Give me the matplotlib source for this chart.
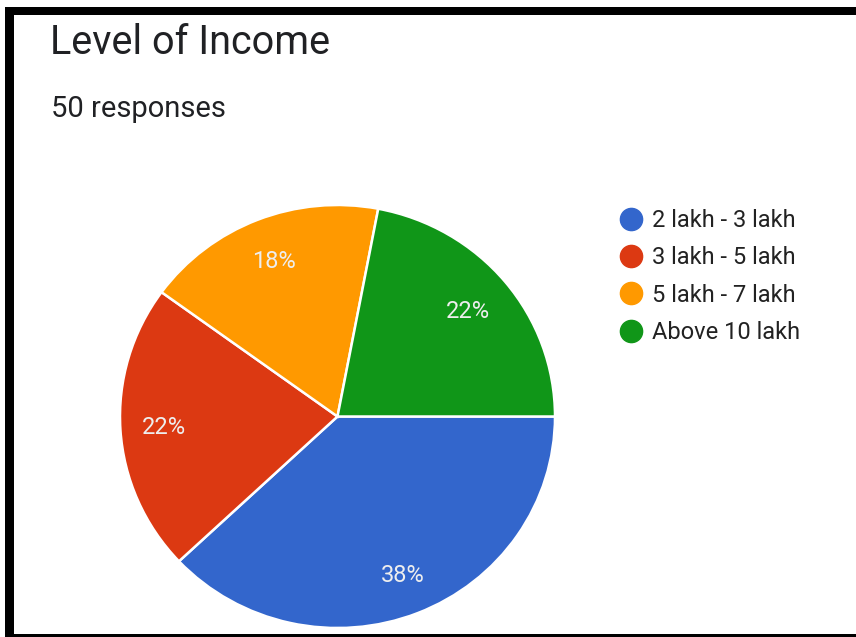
import numpy as np
import matplotlib
matplotlib.use("Agg")
import matplotlib.pyplot as plt
from matplotlib.patches import Rectangle
from matplotlib.lines import Line2D

plt.rcParams['font.family'] = ['Roboto', 'DejaVu Sans']

# survey data
categories = ["2 lakh - 3 lakh", "3 lakh - 5 lakh", "5 lakh - 7 lakh", "Above 10 lakh"]
shares = [38, 22, 18, 22]
colors = ["#3366cc", "#dc3912", "#ff9900", "#109618"]
label_dist = [0.81, 0.80, 0.79, 0.78]
title = "Level of Income"
subtitle = "50 responses"

W, H = 856, 637
fig = plt.figure(figsize=(W / 100, H / 100), dpi=100)
fig.patch.set_facecolor("white")

def px(x0, y0, x1, y1):
    # pixel box (top-left origin) -> figure fraction rect
    return [x0 / W, 1 - y1 / H, (x1 - x0) / W, (y1 - y0) / H]

ax = fig.add_axes(px(120, 205, 555, 628))
wedges, _ = ax.pie(shares, colors=colors, startangle=0, counterclock=False,
                   wedgeprops=dict(edgecolor="white", linewidth=1.8))
ax.set_aspect("auto")
ax.set_xlim(-1, 1)
ax.set_ylim(-1, 1)
ax.axis("off")

for w, v, d in zip(wedges, shares, label_dist):
    mid = np.deg2rad((w.theta1 + w.theta2) / 2)
    ax.text(d * np.cos(mid), d * np.sin(mid), f"{v}%", ha="center", va="center",
            fontsize=17, color="#eeeeee")

fig.text(50 / W, 1 - 54 / H, title, fontsize=28.5, color="#202124", ha="left", va="baseline")
fig.text(51 / W, 1 - 117 / H, subtitle, fontsize=21, color="#202124", ha="left", va="baseline")

handles = [Line2D([], [], marker="o", linestyle="none", markersize=16,
                  markerfacecolor=c, markeredgecolor=c) for c in colors]
fig.legend(handles, categories, loc="upper left", bbox_to_anchor=(605 / W, 1 - 197 / H),
           frameon=False, fontsize=17, labelcolor="#222222", borderpad=0,
           handletextpad=0.3, labelspacing=0.61, handlelength=1.2)

# black frame on left, top and bottom
for box in [(5, 7, 856, 15), (5, 7, 14, 637), (5, 634, 856, 637)]:
    r = px(*box)
    fig.patches.append(Rectangle(r[:2], r[2], r[3], transform=fig.transFigure,
                                 facecolor="black", edgecolor="none", zorder=10))

fig.savefig("out.png", dpi=100)
